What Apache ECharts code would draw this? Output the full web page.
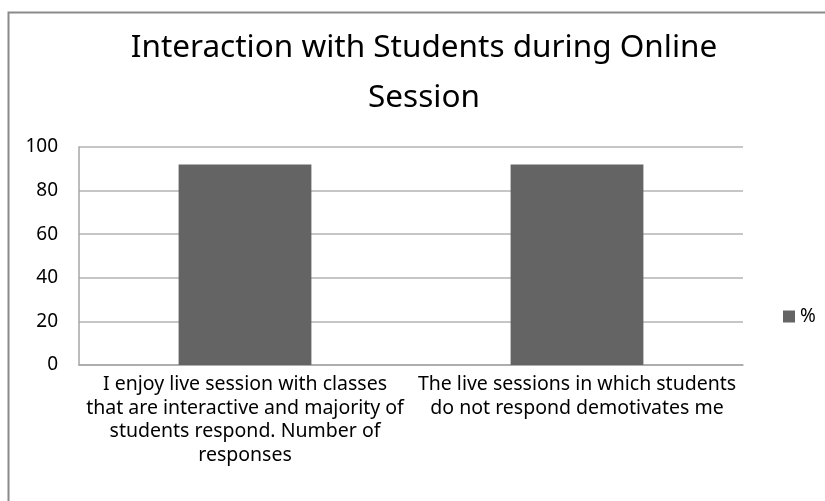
<!DOCTYPE html>
<html><head><meta charset="utf-8">
<script src="https://cdn.jsdelivr.net/npm/echarts@6/dist/echarts.min.js"></script>
<style>html,body{margin:0;padding:0;background:#fff}#c{width:825px;height:501px}</style>
</head><body><div id="c"></div>
<script>
const titleText = "Interaction with Students during Online\nSession";
const categories = [
  "I enjoy live session with classes\nthat are interactive and majority of\nstudents respond. Number of\nresponses",
  "The live sessions in which students\ndo not respond demotivates me"
];
const seriesName = "%";
const values = [92, 92];
const yTicks = [0, 20, 40, 60, 80, 100];

const FONT = "Noto Sans";
const chart = echarts.init(document.getElementById('c'), null, {renderer: 'canvas'});
chart.setOption({
  animation: false,
  backgroundColor: '#fff',
  textStyle: {fontFamily: FONT},
  graphic: [{
    type: 'rect', left: 6, top: 10, z: 100, silent: true,
    shape: {width: 900, height: 600},
    style: {fill: 'none', stroke: '#8a8a8a', lineWidth: 2}
  }, {
    type: 'text', x: 424, y: 23, silent: true,
    style: {text: titleText, fill: '#000', font: '31.5px "Noto Sans"', align: 'center', verticalAlign: 'top', lineHeight: 50}
  }],
  legend: {
    data: [seriesName], left: 778, top: 302, orient: 'vertical',
    itemWidth: 12, itemHeight: 12, itemGap: 6, icon: 'rect',
    textStyle: {fontFamily: FONT, fontSize: 19, color: '#000'}
  },
  grid: {left: 79, right: 82, top: 147, bottom: 136, containLabel: false},
  xAxis: {
    type: 'category', data: categories,
    axisLine: {show: true, lineStyle: {color: '#a6a6a6', width: 1.5}},
    axisTick: {show: false},
    axisLabel: {fontFamily: FONT, fontSize: 19.5, color: '#000', lineHeight: 23.5, margin: 8, interval: 0, align: 'center'}
  },
  yAxis: {
    type: 'value', min: 0, max: 100, interval: 20,
    axisLine: {show: true, lineStyle: {color: '#a6a6a6', width: 1.5}},
    axisTick: {show: false},
    splitLine: {show: true, lineStyle: {color: '#b3b3b3', width: 1.5}},
    axisLabel: {fontFamily: FONT, fontSize: 19, color: '#000', margin: 21,
      formatter: v => yTicks.includes(v) ? String(v) : ''}
  },
  series: [{
    name: seriesName, type: 'bar', data: values, barWidth: '40%',
    itemStyle: {color: '#646464'}
  }]
});
</script></body></html>
